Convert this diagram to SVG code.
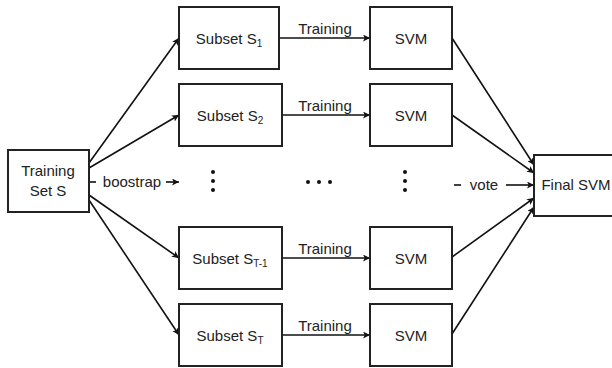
<svg xmlns="http://www.w3.org/2000/svg" width="612" height="368" viewBox="0 0 612 368">
<defs>
<marker id="ah" viewBox="0 0 10 10" refX="10" refY="5" markerWidth="7" markerHeight="7" markerUnits="userSpaceOnUse" orient="auto">
<path d="M0,0 L10,5 L0,10 L2.5,5 z" fill="#111"/>
</marker>
<style>
.box{fill:#fff;stroke:#222;stroke-width:2}
.t{font-family:"Liberation Sans",Arial,sans-serif;font-size:15px;fill:#222;text-anchor:middle}
.s{font-size:10px}
.ln{stroke:#111;stroke-width:1.6;fill:none}
.ar{stroke:#111;stroke-width:1.6;fill:none;marker-end:url(#ah)}
.d{fill:#111}
</style>
</defs>
<rect width="612" height="368" fill="#fff"/>
<g id="connectors">
<path class="ar" d="M89,163 L179,38"/>
<path class="ar" d="M89,168 L179,115"/>
<path class="ar" d="M89,195 L179,258"/>
<path class="ar" d="M89,200 L179,335"/>
<path class="ar" d="M279,38 L370,38"/>
<path class="ar" d="M282,115 L370,115"/>
<path class="ar" d="M282,258 L370,258"/>
<path class="ar" d="M282,335 L370,335"/>
<path class="ar" d="M452,38 L534,165"/>
<path class="ar" d="M452,115 L534,173"/>
<path class="ar" d="M452,257 L534,198"/>
<path class="ar" d="M452,334 L534,207"/>
<path class="ln" d="M90,182 L96,182"/>
<path class="ar" d="M166,182 L179,182"/>
<path class="ln" d="M454,185 L461,185"/>
<path class="ar" d="M506,185 L534,185"/>
<text class="t" x="132" y="187">boostrap</text>
<text class="t" x="484" y="190">vote</text>
<text class="t" x="325" y="34">Training</text>
<text class="t" x="325" y="111">Training</text>
<text class="t" x="325" y="254">Training</text>
<text class="t" x="325" y="331">Training</text>
</g>
<g id="training-set">
<rect class="box" x="8" y="150" width="81" height="62"/>
<text class="t" x="48" y="176">Training</text>
<text class="t" x="48" y="196">Set S</text>
</g>
<g id="subset1">
<rect class="box" x="179" y="7" width="100" height="62"/>
<text class="t" x="229" y="44">Subset  S<tspan class="s" dy="3">1</tspan></text>
</g>
<g id="subset2">
<rect class="box" x="179" y="84" width="103" height="62"/>
<text class="t" x="230" y="121">Subset S<tspan class="s" dy="3">2</tspan></text>
</g>
<g id="subsetT1">
<rect class="box" x="179" y="227" width="103" height="62"/>
<text class="t" x="230" y="264">Subset S<tspan class="s" dy="3">T-1</tspan></text>
</g>
<g id="subsetT">
<rect class="box" x="179" y="304" width="103" height="62"/>
<text class="t" x="230" y="341">Subset S<tspan class="s" dy="3">T</tspan></text>
</g>
<g id="svm1">
<rect class="box" x="370" y="7" width="82" height="62"/>
<text class="t" x="411" y="44">SVM</text>
</g>
<g id="svm2">
<rect class="box" x="370" y="84" width="82" height="62"/>
<text class="t" x="411" y="121">SVM</text>
</g>
<g id="svmT1">
<rect class="box" x="370" y="227" width="82" height="62"/>
<text class="t" x="411" y="264">SVM</text>
</g>
<g id="svmT">
<rect class="box" x="370" y="304" width="82" height="62"/>
<text class="t" x="411" y="341">SVM</text>
</g>
<g id="final-svm">
<rect class="box" x="534" y="155" width="84" height="61"/>
<text class="t" x="576" y="190">Final SVM</text>
</g>
<g id="ellipsis">
<circle class="d" cx="213" cy="172" r="2"/>
<circle class="d" cx="213" cy="181" r="2"/>
<circle class="d" cx="213" cy="190" r="2"/>
<circle class="d" cx="308" cy="182" r="2"/>
<circle class="d" cx="319" cy="182" r="2"/>
<circle class="d" cx="330" cy="182" r="2"/>
<circle class="d" cx="405" cy="172" r="2"/>
<circle class="d" cx="405" cy="181" r="2"/>
<circle class="d" cx="405" cy="190" r="2"/>
</g>
</svg>
